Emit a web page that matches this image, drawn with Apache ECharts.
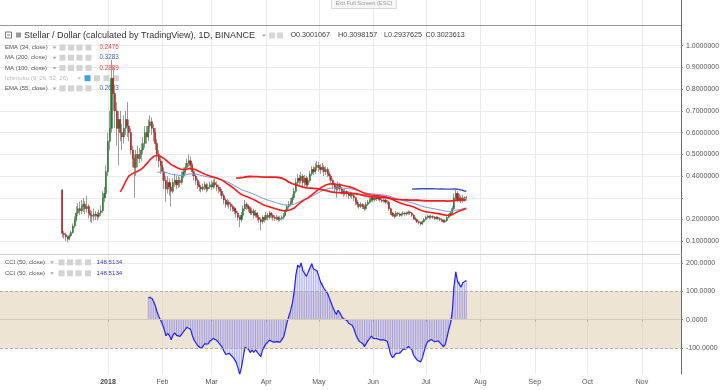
<!DOCTYPE html>
<html><head><meta charset="utf-8">
<script src="https://cdn.jsdelivr.net/npm/echarts@6/dist/echarts.min.js"></script>
<style>html,body{margin:0;padding:0;background:#fff}#c{width:724px;height:390px}</style>
</head><body><div id="c"></div>
<script>
// ---------- DATA ----------
const startDate = [2017, 11, 6]; // first daily candle: 6 Dec 2017
// daily candles [open, close, low, high]
const candles = [
[0.336,0.137,0.118,0.340],[0.137,0.130,0.112,0.148],[0.130,0.120,0.100,0.140],[0.120,0.110,0.095,0.128],[0.110,0.125,0.104,0.135],
[0.125,0.140,0.118,0.150],[0.140,0.170,0.135,0.182],[0.170,0.200,0.160,0.215],[0.200,0.230,0.190,0.262],[0.230,0.250,0.215,0.275],
[0.250,0.240,0.220,0.282],[0.240,0.260,0.225,0.290],[0.260,0.270,0.235,0.300],[0.270,0.250,0.225,0.285],[0.250,0.260,0.232,0.310],
[0.260,0.230,0.205,0.270],[0.230,0.220,0.190,0.245],[0.220,0.215,0.185,0.240],[0.215,0.225,0.195,0.250],[0.225,0.220,0.198,0.240],
[0.220,0.215,0.195,0.235],[0.215,0.230,0.205,0.245],[0.230,0.240,0.215,0.265],[0.240,0.300,0.232,0.330],[0.300,0.320,0.280,0.350],
[0.320,0.420,0.300,0.450],[0.420,0.560,0.400,0.600],[0.560,0.620,0.520,0.700],[0.620,0.850,0.600,0.935],[0.850,0.780,0.700,0.900],
[0.780,0.700,0.620,0.820],[0.700,0.620,0.540,0.740],[0.620,0.660,0.450,0.700],[0.660,0.600,0.560,0.700],[0.600,0.580,0.520,0.640],
[0.580,0.620,0.550,0.680],[0.620,0.660,0.590,0.700],[0.660,0.630,0.580,0.740],[0.630,0.600,0.560,0.660],[0.600,0.520,0.500,0.620],
[0.520,0.480,0.440,0.540],[0.480,0.440,0.300,0.500],[0.440,0.500,0.400,0.520],[0.500,0.480,0.440,0.540],[0.480,0.500,0.460,0.530],
[0.500,0.520,0.470,0.550],[0.520,0.550,0.500,0.580],[0.550,0.600,0.530,0.630],[0.600,0.580,0.550,0.630],[0.580,0.630,0.560,0.660],
[0.630,0.650,0.600,0.680],[0.650,0.620,0.590,0.670],[0.620,0.600,0.560,0.640],[0.600,0.550,0.520,0.620],[0.550,0.500,0.470,0.570],
[0.500,0.470,0.440,0.520],[0.470,0.450,0.410,0.490],[0.450,0.420,0.380,0.470],[0.420,0.380,0.340,0.440],[0.380,0.340,0.280,0.400],
[0.340,0.370,0.320,0.400],[0.370,0.350,0.310,0.390],[0.350,0.330,0.260,0.370],[0.330,0.370,0.320,0.390],[0.370,0.380,0.350,0.410],
[0.380,0.360,0.340,0.400],[0.360,0.380,0.345,0.400],[0.380,0.370,0.350,0.395],[0.370,0.400,0.360,0.420],[0.400,0.420,0.390,0.440],
[0.420,0.440,0.410,0.460],[0.440,0.460,0.430,0.480],[0.460,0.470,0.440,0.500],[0.470,0.450,0.430,0.490],[0.450,0.420,0.400,0.460],
[0.420,0.400,0.380,0.430],[0.400,0.380,0.360,0.410],[0.380,0.360,0.340,0.390],[0.360,0.350,0.330,0.375],[0.350,0.340,0.325,0.360],
[0.340,0.350,0.330,0.365],[0.350,0.360,0.335,0.375],[0.360,0.340,0.325,0.370],[0.340,0.350,0.330,0.365],[0.350,0.360,0.340,0.375],
[0.360,0.350,0.335,0.380],[0.350,0.370,0.340,0.385],[0.370,0.360,0.345,0.390],[0.360,0.350,0.330,0.375],[0.350,0.340,0.320,0.360],
[0.340,0.330,0.310,0.350],[0.330,0.310,0.295,0.340],[0.310,0.290,0.270,0.320],[0.290,0.270,0.255,0.300],[0.270,0.280,0.260,0.295],
[0.280,0.270,0.250,0.290],[0.270,0.260,0.240,0.280],[0.260,0.250,0.235,0.270],[0.250,0.240,0.225,0.260],[0.240,0.230,0.210,0.255],
[0.230,0.210,0.195,0.240],[0.210,0.200,0.165,0.220],[0.200,0.220,0.190,0.235],[0.220,0.250,0.210,0.265],[0.250,0.270,0.240,0.290],
[0.270,0.260,0.245,0.280],[0.260,0.250,0.235,0.270],[0.250,0.230,0.220,0.260],[0.230,0.240,0.220,0.255],[0.240,0.220,0.205,0.250],
[0.220,0.230,0.210,0.245],[0.230,0.210,0.195,0.235],[0.210,0.200,0.185,0.220],[0.200,0.190,0.150,0.210],[0.190,0.210,0.180,0.220],
[0.210,0.200,0.185,0.220],[0.200,0.220,0.195,0.235],[0.220,0.210,0.195,0.230],[0.210,0.230,0.200,0.240],[0.230,0.220,0.205,0.235],
[0.220,0.210,0.195,0.228],[0.210,0.205,0.192,0.222],[0.205,0.210,0.195,0.222],[0.210,0.200,0.190,0.218],[0.200,0.205,0.192,0.215],
[0.205,0.210,0.195,0.220],[0.210,0.220,0.200,0.230],[0.220,0.240,0.215,0.250],[0.240,0.260,0.235,0.270],[0.260,0.270,0.250,0.285],
[0.270,0.280,0.260,0.300],[0.280,0.300,0.270,0.315],[0.300,0.330,0.290,0.345],[0.330,0.370,0.320,0.390],[0.370,0.390,0.355,0.410],
[0.390,0.380,0.360,0.405],[0.380,0.400,0.365,0.420],[0.400,0.370,0.350,0.410],[0.370,0.390,0.355,0.405],[0.390,0.360,0.345,0.400],
[0.360,0.380,0.350,0.395],[0.380,0.410,0.370,0.425],[0.410,0.430,0.400,0.445],[0.430,0.420,0.405,0.445],[0.420,0.440,0.410,0.460],
[0.440,0.450,0.425,0.470],[0.450,0.440,0.420,0.465],[0.440,0.430,0.410,0.455],[0.430,0.440,0.420,0.460],[0.440,0.420,0.400,0.450],
[0.420,0.430,0.405,0.445],[0.430,0.410,0.395,0.440],[0.410,0.400,0.380,0.420],[0.400,0.380,0.360,0.410],[0.380,0.360,0.340,0.390],
[0.360,0.350,0.320,0.370],[0.350,0.340,0.300,0.360],[0.340,0.360,0.330,0.375],[0.360,0.340,0.325,0.370],[0.340,0.330,0.315,0.350],
[0.330,0.320,0.305,0.340],[0.320,0.330,0.310,0.340],[0.330,0.320,0.305,0.335],[0.320,0.310,0.295,0.330],[0.310,0.320,0.300,0.330],
[0.320,0.310,0.295,0.325],[0.310,0.300,0.285,0.315],[0.300,0.280,0.265,0.305],[0.280,0.270,0.255,0.290],[0.270,0.260,0.250,0.280],
[0.260,0.270,0.252,0.280],[0.270,0.260,0.248,0.275],[0.260,0.250,0.240,0.268],[0.250,0.270,0.245,0.280],[0.270,0.280,0.262,0.290],
[0.280,0.290,0.272,0.300],[0.290,0.300,0.282,0.310],[0.300,0.290,0.280,0.308],[0.290,0.300,0.283,0.310],[0.300,0.295,0.285,0.305],
[0.295,0.300,0.288,0.310],[0.300,0.290,0.282,0.305],[0.290,0.285,0.278,0.298],[0.285,0.290,0.278,0.298],[0.290,0.280,0.272,0.295],
[0.280,0.280,0.270,0.290],[0.280,0.250,0.240,0.285],[0.250,0.230,0.220,0.255],[0.230,0.220,0.212,0.235],[0.220,0.215,0.205,0.228],
[0.215,0.230,0.210,0.238],[0.230,0.225,0.215,0.235],[0.225,0.220,0.212,0.232],[0.220,0.225,0.213,0.232],[0.225,0.230,0.218,0.238],
[0.230,0.225,0.217,0.236],[0.225,0.230,0.218,0.237],[0.230,0.235,0.222,0.242],[0.235,0.230,0.222,0.240],[0.230,0.220,0.212,0.236],
[0.220,0.205,0.198,0.225],[0.205,0.200,0.192,0.212],[0.200,0.190,0.184,0.205],[0.190,0.185,0.178,0.196],[0.185,0.180,0.172,0.192],
[0.180,0.190,0.175,0.196],[0.190,0.200,0.185,0.207],[0.200,0.210,0.195,0.218],[0.210,0.215,0.203,0.222],[0.215,0.210,0.202,0.220],
[0.210,0.215,0.204,0.222],[0.215,0.210,0.203,0.220],[0.210,0.205,0.198,0.216],[0.205,0.210,0.199,0.216],[0.210,0.205,0.197,0.214],
[0.205,0.200,0.192,0.210],[0.200,0.195,0.188,0.206],[0.195,0.190,0.183,0.200],[0.190,0.195,0.185,0.202],[0.195,0.210,0.190,0.216],
[0.210,0.220,0.205,0.228],[0.220,0.230,0.214,0.238],[0.230,0.250,0.225,0.262],[0.250,0.300,0.245,0.320],[0.300,0.320,0.290,0.336],
[0.320,0.290,0.280,0.330],[0.290,0.300,0.282,0.318],[0.300,0.285,0.276,0.310],[0.285,0.300,0.278,0.315],[0.300,0.300,0.282,0.308],
[0.3001067,0.3023613,0.2937625,0.3098157]
];
const monthTicks = ['2018-01-01','2018-02-01','2018-03-01','2018-04-01','2018-05-01','2018-06-01','2018-07-01','2018-08-01','2018-09-01','2018-10-01','2018-11-01'];
const monthLabels = ['2018','Feb','Mar','Apr','May','Jun','Jul','Aug','Sep','Oct','Nov'];
const priceGrid = [0.1,0.2,0.3,0.4,0.5,0.6,0.7,0.8,0.9,1.0];
const priceLabels = [0.1,0.2,0.4,0.5,0.6,0.7,0.8,0.9,1.0];
const cciGrid = [-100,0,100,200];
const legendRows = [
  {name:'EMA (34, close)', value:'0.2476', color:'#f23b3b'},
  {name:'MA (200, close)', value:'0.3283', color:'#3b5bc4'},
  {name:'MA (100, close)', value:'0.2889', color:'#f23b3b'},
  {name:'Ichimoku (9, 26, 52, 26)', value:'', color:'#bbb'},
  {name:'EMA (55, close)', value:'0.2603', color:'#4a66c0'}
];
const cciRows = [{name:'CCI (50, close)', value:'148.5134'},{name:'CCI (50, close)', value:'148.5134'}];
const ohlcText = [['O','0.3001067'],['H','0.3098157'],['L','0.2937625'],['C','0.3023613']];

// ---------- BUILD ----------
const DAY = 86400000;
const t0 = Date.UTC(startDate[0], startDate[1], startDate[2]);
const dates = candles.map((_, i) => t0 + i * DAY);
const closes = candles.map(c => c[1]);
const toT = s => { const p = s.split('-').map(Number); return Date.UTC(p[0], p[1]-1, p[2]); };
const monthT = monthTicks.map(toT);
const jan1 = Date.UTC(2018,0,1);
const xMin = jan1 - 61.48 * DAY, xMax = xMin + 387.7 * DAY;

function sma(src, n){const o=[];let s=0;for(let i=0;i<src.length;i++){s+=src[i];if(i>=n)s-=src[i-n];o.push(i>=n-1?s/n:null);}return o;}
function ema(src, n){const k=2/(n+1);const o=[];let p=null;for(let i=0;i<src.length;i++){if(i<n-1){o.push(null);continue;}if(i===n-1){let s=0;for(let j=0;j<n;j++)s+=src[j];p=s/n;}else p=src[i]*k+p*(1-k);o.push(p);}return o;}
function cci(n){const tp=candles.map(c=>(c[1]+c[2]+c[3])/3);const o=[];for(let i=0;i<tp.length;i++){if(i<n-1){o.push(null);continue;}let s=0;for(let j=i-n+1;j<=i;j++)s+=tp[j];const m=s/n;let d=0;for(let j=i-n+1;j<=i;j++)d+=Math.abs(tp[j]-m);d/=n;o.push((tp[i]-m)/(0.015*d));}return o;}
const pairs = a => a.map((v,i)=>v==null?null:[dates[i],v]).filter(Boolean);

const ema34 = pairs(ema(closes,34)), ema55 = pairs(ema(closes,55));
const ma100 = pairs(sma(closes,100)), ma200 = pairs(sma(closes,200));
const cciData = pairs(cci(50));
const wickData = candles.map((c,i)=>[dates[i],c[0],c[1],c[2],c[3]]);
const bodyData = candles.map((c,i)=>[dates[i],c[0],c[1],Math.min(c[0],c[1]),Math.max(c[0],c[1])]);
const lastClose = closes[closes.length-1];

const F = '"Liberation Sans", Arial, sans-serif';
const G = [];
function txt(x,y,t,fill,size){G.push({type:'text',z:1,x:x,y:y,style:{text:t,fill:fill,font:size+'px '+F,verticalAlign:'middle',align:'left'}});}
function rect(x,y,w,h,fill,stroke,z){G.push({type:'rect',z:z||1,shape:{x:x,y:y,width:w,height:h},style:{fill:fill,stroke:stroke||null,lineWidth:1}});}
function arrow(x,y,c){G.push({type:'polygon',z:1,shape:{points:[[x,y-1],[x+4,y-1],[x+2,y+1.5]]},style:{fill:c}});}
function icons(xs,y,first){xs.forEach((x,k)=>rect(x,y-3,6,6,(k===0&&first)?first:'#d3d3d3',null));}
// header
G.push({type:'line',z:1,shape:{x1:0,y1:25.5,x2:681,y2:25.5},style:{stroke:'#9a9a9a',lineWidth:1}});
rect(5.5,32,6,6,'#fff','#777');
G.push({type:'line',z:1,shape:{x1:7,y1:35,x2:10,y2:35},style:{stroke:'#777',lineWidth:1}});
rect(16,32.5,5,5,'#999',null);
txt(24,35.5,'Stellar / Dollar (calculated by TradingView), 1D, BINANCE','#333',9);
arrow(262,35.5,'#aaa');
rect(269,32.5,6,6,'#d8d8d8',null); rect(277,32.5,6,6,'#d8d8d8',null);
const ohX=[290.5,338,384,425.5];
ohlcText.forEach((p,k)=>txt(ohX[k],35.5,p[0]+p[1],'#3a3a3a',7.2));
const rowY=[47.5,57.7,67.9,78.2,88.4];
legendRows.forEach((r,k)=>{
  const y=rowY[k];
  if(r.value===''){ // Ichimoku (hidden indicator)
    txt(5,y,r.name,'#bbb',6);arrow(77,y,'#ccc');icons([84.5,94,103.5,113],y,'#3fa3de');
  } else {
    txt(5,y,r.name,'#555',6);arrow(52.5,y,'#aaa');icons([59.5,68,76.5,85.5],y);
    txt(99.5,y,r.value,r.color,6.3);
  }
});
const cciY=[262.3,273.3];
cciRows.forEach((r,k)=>{const y=cciY[k];txt(5,y,r.name,'#555',6);arrow(50,y,'#aaa');icons([58.5,67,75.5,85],y);txt(96.5,y,r.value,'#3333ff',6.2);});
// pane separator
G.push({type:'line',z:1,shape:{x1:0,y1:254.5,x2:681,y2:254.5},style:{stroke:'#cfcfcf',lineWidth:1}});
// exit full screen hint
G.push({type:'rect',z:100,shape:{x:331.5,y:-2,width:65,height:10.5},style:{fill:'#f6f6f6',stroke:'#d8d8d8',lineWidth:1}});
G.push({type:'text',z:101,x:364,y:3.5,style:{text:'Exit Full Screen (ESC)',fill:'#9a9a9a',font:'5.7px '+F,align:'center',verticalAlign:'middle'}});

const gridColor = '#ebebeb';
const monthFmt = v => { let k=-1; for(let i=0;i<monthT.length;i++){ if(Math.abs(monthT[i]-v)<DAY) k=i; } const s=k>=0?monthLabels[k]:''; return k===0?'{b|'+s+'}':s; };
const option = {
  animation:false,
  backgroundColor:'#fff',
  textStyle:{fontFamily:F},
  graphic:G,
  grid:[{left:0,right:43,top:0,height:254},{left:0,right:43,top:255,height:119}],
  xAxis:[
    {type:'value',gridIndex:0,min:xMin,max:xMax,scale:true,axisLine:{show:false},axisTick:{show:false,customValues:monthT},axisLabel:{show:false,customValues:monthT},splitLine:{show:true,lineStyle:{color:gridColor}}},
    {type:'value',gridIndex:1,min:xMin,max:xMax,scale:true,axisLine:{show:true,lineStyle:{color:'#8a8a8a'}},axisTick:{show:true,length:2,lineStyle:{color:'#8a8a8a'},customValues:monthT},
     axisLabel:{customValues:monthT,fontSize:7,color:'#555',margin:5,formatter:monthFmt,rich:{b:{fontWeight:'bold',fontSize:7,color:'#444'}}},
     splitLine:{show:true,lineStyle:{color:gridColor}}}
  ],
  yAxis:[
    {type:'value',gridIndex:0,position:'right',min:0.0414,max:1.2103,axisLine:{show:true,lineStyle:{color:'#6a6a6a'}},axisTick:{show:true,length:2,lineStyle:{color:'#8a8a8a'},customValues:priceGrid},
     axisLabel:{customValues:priceLabels,fontSize:7,color:'#555',margin:5,formatter:v=>v.toFixed(7)},splitLine:{show:true,lineStyle:{color:gridColor}}},
    {type:'value',gridIndex:1,position:'right',min:-192.4,max:229.6,axisLine:{show:true,lineStyle:{color:'#6a6a6a'}},axisTick:{show:true,length:2,lineStyle:{color:'#8a8a8a'},customValues:cciGrid},
     axisLabel:{customValues:cciGrid,fontSize:7,color:'#555',margin:5,formatter:v=>v.toFixed(4)},splitLine:{show:true,lineStyle:{color:gridColor}}}
  ],
  series:[
    {type:'candlestick',name:'wick',xAxisIndex:0,yAxisIndex:0,barWidth:1,data:wickData,
     itemStyle:{color:'#9a9a9a',color0:'#9a9a9a',borderColor:'#9a9a9a',borderColor0:'#9a9a9a',borderWidth:1}},
    {type:'candlestick',name:'body',xAxisIndex:0,yAxisIndex:0,barWidth:1.6,data:bodyData,
     itemStyle:{color:'#237a2a',color0:'#b81414',borderColor:'#237a2a',borderColor0:'#b81414',borderWidth:0.5},
     markLine:{silent:true,symbol:'none',lineStyle:{opacity:0},data:[{yAxis:lastClose}],
       label:{show:true,position:'end',distance:1,formatter:()=>lastClose.toFixed(7),backgroundColor:'#367a30',color:'#fff',padding:[2,3,1,3],fontSize:7}}},
    {type:'line',name:'EMA55',xAxisIndex:0,yAxisIndex:0,data:ema55,showSymbol:false,lineStyle:{color:'#7d95df',width:1}},
    {type:'line',name:'MA200',xAxisIndex:0,yAxisIndex:0,data:ma200,showSymbol:false,lineStyle:{color:'#3556b8',width:1.4}},
    {type:'line',name:'MA100',xAxisIndex:0,yAxisIndex:0,data:ma100,showSymbol:false,lineStyle:{color:'#f41c1c',width:1.8}},
    {type:'line',name:'EMA34',xAxisIndex:0,yAxisIndex:0,data:ema34,showSymbol:false,lineStyle:{color:'#ff1a1a',width:1.6}},
    {type:'line',name:'band',xAxisIndex:1,yAxisIndex:1,z:1,data:[],
     markArea:{silent:true,itemStyle:{color:'rgba(219,201,167,0.5)'},data:[[{yAxis:-100},{yAxis:100}]]},
     markLine:{silent:true,symbol:'none',label:{show:false},data:[
       {yAxis:100,lineStyle:{color:'#b3aca0',type:[3,2],width:1}},
       {yAxis:-100,lineStyle:{color:'#b3aca0',type:[3,2],width:1}},
       {yAxis:0,lineStyle:{color:'#d8ccb6',type:'solid',width:1}}]}},
    {type:'bar',name:'CCI hist',xAxisIndex:1,yAxisIndex:1,barWidth:1,data:cciData,itemStyle:{color:'rgba(70,70,255,0.45)'}},
    {type:'line',name:'CCI',xAxisIndex:1,yAxisIndex:1,data:cciData,showSymbol:false,lineStyle:{color:'#1f1fff',width:1.2}}
  ]
};
const chart = echarts.init(document.getElementById('c'),null,{renderer:'canvas'});
chart.setOption(option);
</script></body></html>
